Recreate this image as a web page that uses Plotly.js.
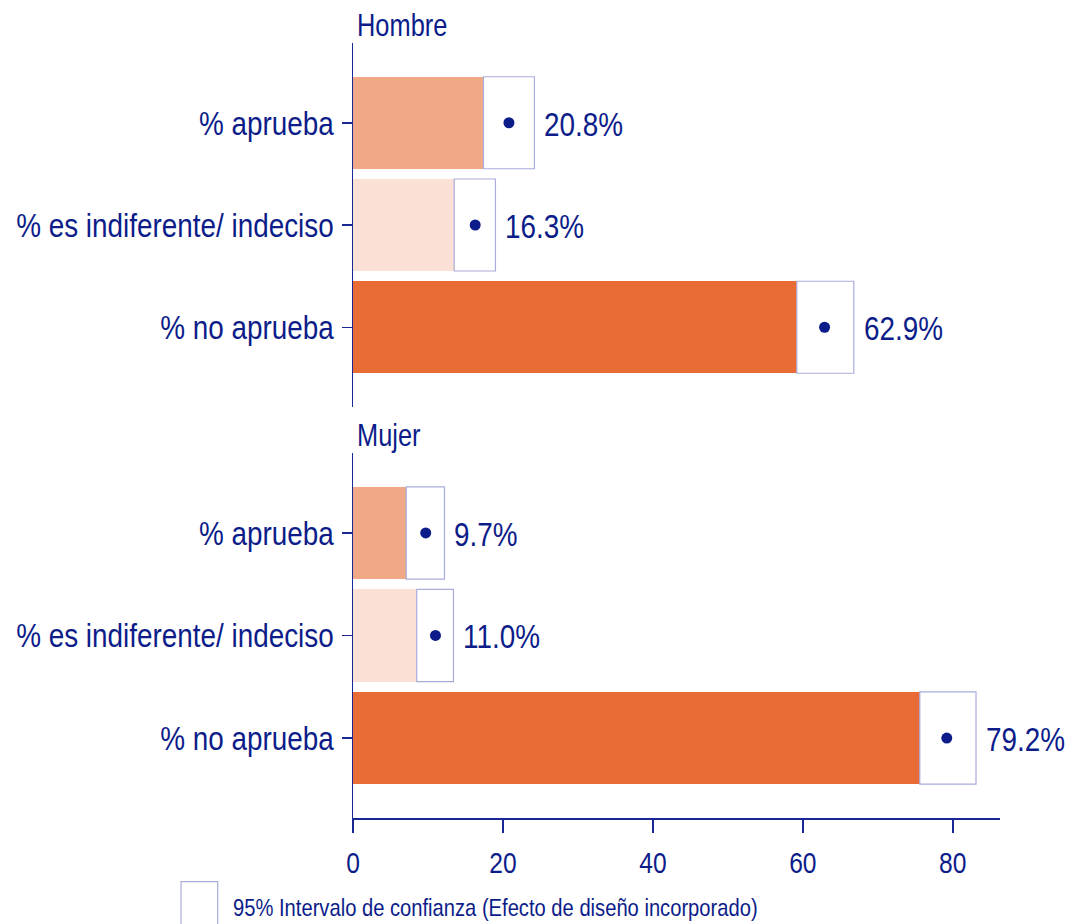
<!DOCTYPE html>
<html><head><meta charset="utf-8">
<script src="https://cdn.plot.ly/plotly-3.0.1.min.js"></script>
<style>html,body{margin:0;padding:0;background:#fff}</style>
</head><body><div id="chart" style="width:1068px;height:924px"></div>
<script>
const categories = ['% aprueba', '% es indiferente/ indeciso', '% no aprueba'];
const panelTitles = ['Hombre', 'Mujer'];
const hombreEst = [20.8, 16.3, 62.9];
const hombreLow = [17.4, 13.5, 59.2];
const hombreHigh = [24.2, 19.0, 66.8];
const mujerEst = [9.7, 11.0, 79.2];
const mujerLow = [7.1, 8.5, 75.6];
const mujerHigh = [12.2, 13.4, 83.1];
const xTickVals = [0, 20, 40, 60, 80];
const legendText = '95% Intervalo de confianza (Efecto de diseño incorporado)';

const barColors = ['#f1a886', '#fbe0d6', '#e96c37'];
const NAVY = '#0c1d8a';
const AXIS = '#1a2896';
const CI_LINE = '#a9acdc';
const FONT = "'Liberation Sans', Arial, sans-serif";
const NARROW = 0.82; // horizontal condensing of text, to imitate a narrow face

const panels = [
  {est: hombreEst, low: hombreLow, high: hombreHigh, xa: 'x', ya: 'y'},
  {est: mujerEst, low: mujerLow, high: mujerHigh, xa: 'x2', ya: 'y2'}
];

const traces = [];
const annotations = [];
panels.forEach((p) => {
  traces.push({
    type: 'bar', orientation: 'h', y: categories, x: p.low, base: 0, width: 0.9,
    marker: {color: barColors, line: {width: 0}}, xaxis: p.xa, yaxis: p.ya,
    hoverinfo: 'skip', showlegend: false
  });
  traces.push({
    type: 'bar', orientation: 'h', y: categories,
    x: p.high.map((h, i) => h - p.low[i]), base: p.low, width: 0.9,
    marker: {color: '#ffffff', line: {color: CI_LINE, width: 1.2}},
    xaxis: p.xa, yaxis: p.ya, hoverinfo: 'skip', showlegend: false
  });
  traces.push({
    type: 'scatter', mode: 'markers', y: categories, x: p.est,
    marker: {color: NAVY, size: 11}, xaxis: p.xa, yaxis: p.ya,
    hoverinfo: 'skip', showlegend: false
  });
  p.est.forEach((v, i) => {
    annotations.push({
      xref: p.xa, yref: p.ya, x: p.high[i], y: categories[i],
      text: v.toFixed(1) + '%', showarrow: false, xanchor: 'left', yanchor: 'middle',
      xshift: 8, yshift: -1, font: {family: FONT, size: 34, color: NAVY}
    });
  });
});

const topDom = [0.5303, 1];
const botDom = [0, 0.471];
annotations.push({
  xref: 'paper', yref: 'paper', x: 0, y: topDom[1], xanchor: 'left', yanchor: 'bottom',
  xshift: 2, yshift: -2, text: panelTitles[0], showarrow: false,
  font: {family: FONT, size: 31, color: NAVY}
});
annotations.push({
  xref: 'paper', yref: 'paper', x: 0, y: botDom[1], xanchor: 'left', yanchor: 'bottom',
  xshift: 2, yshift: -2, text: panelTitles[1], showarrow: false,
  font: {family: FONT, size: 31, color: NAVY}
});
annotations.push({
  xref: 'paper', yref: 'paper', x: -0.188, y: -0.116, xanchor: 'left', yanchor: 'middle',
  text: legendText, showarrow: false, font: {family: FONT, size: 24.6, color: NAVY}
});

const yaxisBase = {
  type: 'category', categoryorder: 'array', categoryarray: categories,
  range: [2.78, -0.78], showline: true, linecolor: AXIS, linewidth: 1.5,
  ticks: 'outside', ticklen: 10, tickcolor: AXIS, tickwidth: 1.5,
  showgrid: false, zeroline: false, ticklabelstandoff: 1,
  tickfont: {family: FONT, size: 34, color: NAVY}, fixedrange: true
};

const layout = {
  width: 1068, height: 924,
  margin: {l: 353, r: 68, t: 43, b: 106},
  paper_bgcolor: '#ffffff', plot_bgcolor: 'rgba(0,0,0,0)',
  barmode: 'overlay', bargap: 0, showlegend: false,
  font: {family: FONT, color: NAVY},
  xaxis: {anchor: 'y', domain: [0, 1], range: [0, 86.3], visible: false, showgrid: false, zeroline: false},
  yaxis: Object.assign({}, yaxisBase, {anchor: 'x', domain: topDom}),
  xaxis2: {
    anchor: 'y2', domain: [0, 1], range: [0, 86.3], showline: true, linecolor: AXIS, linewidth: 1.5,
    ticks: 'outside', ticklen: 13, tickcolor: AXIS, tickwidth: 1.5, tickvals: xTickVals,
    ticklabelstandoff: 5,
    showgrid: false, zeroline: false, tickfont: {family: FONT, size: 30, color: NAVY}, fixedrange: true
  },
  yaxis2: Object.assign({}, yaxisBase, {anchor: 'x2', domain: botDom}),
  shapes: [{
    type: 'rect', xref: 'paper', yref: 'paper', x0: -0.2658, x1: -0.2091, y0: -0.16, y1: -0.0822,
    line: {color: CI_LINE, width: 1.2}, fillcolor: '#ffffff'
  }],
  annotations: annotations
};

Plotly.newPlot('chart', traces, layout, {displayModeBar: false, staticPlot: true}).then(gd => {
  gd.querySelectorAll('text').forEach(t => {
    if (!t.textContent.trim()) return;
    const bb = t.getBBox();
    const anchor = t.getAttribute('text-anchor') || 'start';
    let px;
    if (t.classList.contains('annotation-text')) px = bb.x;
    else if (anchor === 'end') px = bb.x + bb.width;
    else if (anchor === 'middle') px = bb.x + bb.width / 2;
    else px = bb.x;
    const tr = t.getAttribute('transform') || '';
    t.setAttribute('transform', tr + ' translate(' + px + ',0) scale(' + NARROW + ',1) translate(' + (-px) + ',0)');
  });
});
</script>
</body></html>
